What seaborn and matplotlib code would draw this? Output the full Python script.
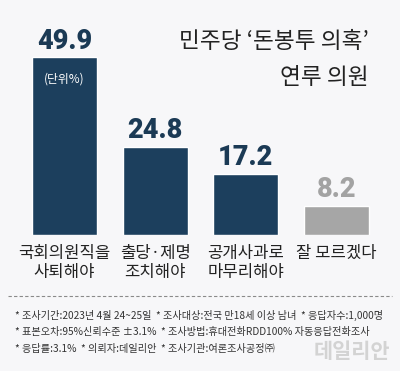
import matplotlib
matplotlib.use("Agg")
import matplotlib.pyplot as plt
import seaborn as sns
import pandas as pd
from matplotlib.lines import Line2D

categories = ["국회의원직을\n사퇴해야", "출당·제명\n조치해야", "공개사과로\n마무리해야", "잘 모르겠다"]
values = [49.9, 24.8, 17.2, 8.2]
bar_colors = ["#1c3f5d", "#1c3f5d", "#1c3f5d", "#a6a6a6"]
label_colors = ["#1b3a55", "#1b3a55", "#1b3a55", "#a3a3a3"]
title_lines = ["민주당 ‘돈봉투 의혹’", "연루 의원"]
unit_text = "(단위%)"
notes = [
    "* 조사기간:2023년 4월 24~25일  * 조사대상:전국 만18세 이상 남녀  * 응답자수:1,000명",
    "* 표본오차:95%신뢰수준 ±3.1%  * 조사방법:휴대전화RDD100% 자동응답전화조사",
    "* 응답률:3.1%  * 의뢰자:데일리안  * 조사기관:여론조사공정㈜",
]
watermark = "데일리안"

sns.set_theme(style="white")
plt.rcParams['font.family'] = ['Noto Sans CJK KR', 'DejaVu Sans']

W, H = 400, 371
BG = "#f7f7f9"
fig = plt.figure(figsize=(W / 100, H / 100), dpi=100, facecolor=BG)

def fx(px):
    return px / W

def fy(py):
    return 1 - py / H

ax = fig.add_axes([fx(19.2), fy(235), 362.7 / W, 214 / H])
ax.set_facecolor(BG)
df = pd.DataFrame({"cat": categories, "val": values})
sns.barplot(data=df, x="cat", y="val", hue="cat", palette=bar_colors,
            width=0.717, ax=ax, legend=False, saturation=1)
ax.set_xlim(-0.5, 3.5)
ax.set_ylim(0, 60)
ax.axis("off")

for i, v in enumerate(values):
    ax.annotate(f"{v}", (i, v), xytext=(0, 6), textcoords="offset points",
                ha="center", va="baseline", fontsize=19.5, fontweight="heavy",
                family=["Roboto", "DejaVu Sans"], color=label_colors[i])

ax.annotate(unit_text, (0, values[0]), xytext=(0, -16), textcoords="offset points",
            ha="center", va="center", fontsize=8.5, color="white")

for i, c in enumerate(categories):
    ax.annotate(c, (i, 0), xytext=(0, -7), textcoords="offset points",
                ha="center", va="top", fontsize=12, color="#222222",
                fontweight="medium", linespacing=1.2)

fig.text(fx(369), fy(41), title_lines[0], ha="right", va="center",
         fontsize=16.3, color="#222222", fontweight="medium")
fig.text(fx(369), fy(78), title_lines[1], ha="right", va="center",
         fontsize=16.3, color="#222222", fontweight="medium")

fig.add_artist(Line2D([fx(8), fx(392)], [fy(296), fy(296)], color="#8a8a8a",
                      lw=0.8, linestyle=(0, (3, 2))))

for k, (t, y) in enumerate(zip(notes, [315, 332, 349])):
    fig.text(fx(15), fy(y), t, ha="left", va="center", fontsize=7.3,
             color="#333333")

fig.text(fx(390), fy(352), watermark, ha="right", va="center", fontsize=15,
         color="#d3d3d3", fontweight="bold")

fig.savefig("out.png", dpi=100, facecolor=BG)
